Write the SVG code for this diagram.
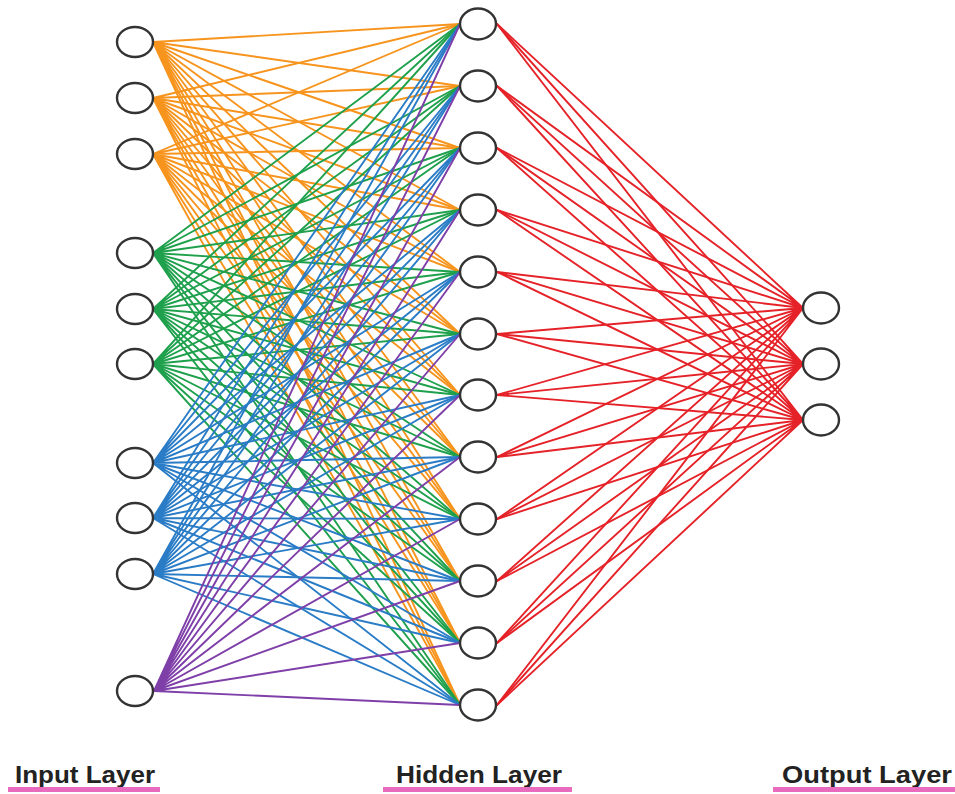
<svg xmlns="http://www.w3.org/2000/svg" width="955" height="794" viewBox="0 0 955 794">
<style>
.e{fill:none;stroke-width:1.9;stroke-linecap:round}
.or{stroke:#F7941D}.gr{stroke:#1EA04C}.bl{stroke:#2A7CC6}.pu{stroke:#7E3FA8}.rd{stroke:#E52228}
.n{fill:#fff;stroke:#333;stroke-width:2.4}
.lbl{font-family:"Liberation Sans",Arial,sans-serif;font-weight:bold;font-size:23px;fill:#222}
.ul{fill:#E86BBE}
</style>
<rect width="955" height="794" fill="#fff"/>
<g id="connectors">
<path class="e or" d="M153 42L460 24M153 42L460 86M153 42L460 148M153 42L460 210M153 42L460 272M153 42L460 334M153 42L460 395M153 42L460 457M153 42L460 519M153 42L460 581M153 42L460 643M153 42L460 705"/>
<path class="e or" d="M153 98L460 24M153 98L460 86M153 98L460 148M153 98L460 210M153 98L460 272M153 98L460 334M153 98L460 395M153 98L460 457M153 98L460 519M153 98L460 581M153 98L460 643M153 98L460 705"/>
<path class="e or" d="M153 154L460 24M153 154L460 86M153 154L460 148M153 154L460 210M153 154L460 272M153 154L460 334M153 154L460 395M153 154L460 457M153 154L460 519M153 154L460 581M153 154L460 643M153 154L460 705"/>
<path class="e gr" d="M153 253L460 24M153 253L460 86M153 253L460 148M153 253L460 210M153 253L460 272M153 253L460 334M153 253L460 395M153 253L460 457M153 253L460 519M153 253L460 581M153 253L460 643M153 253L460 705"/>
<path class="e gr" d="M153 309L460 24M153 309L460 86M153 309L460 148M153 309L460 210M153 309L460 272M153 309L460 334M153 309L460 395M153 309L460 457M153 309L460 519M153 309L460 581M153 309L460 643M153 309L460 705"/>
<path class="e gr" d="M153 364L460 24M153 364L460 86M153 364L460 148M153 364L460 210M153 364L460 272M153 364L460 334M153 364L460 395M153 364L460 457M153 364L460 519M153 364L460 581M153 364L460 643M153 364L460 705"/>
<path class="e bl" d="M153 463L460 24M153 463L460 86M153 463L460 148M153 463L460 210M153 463L460 272M153 463L460 334M153 463L460 395M153 463L460 457M153 463L460 519M153 463L460 581M153 463L460 643M153 463L460 705"/>
<path class="e bl" d="M153 518L460 24M153 518L460 86M153 518L460 148M153 518L460 210M153 518L460 272M153 518L460 334M153 518L460 395M153 518L460 457M153 518L460 519M153 518L460 581M153 518L460 643M153 518L460 705"/>
<path class="e bl" d="M153 574L460 24M153 574L460 86M153 574L460 148M153 574L460 210M153 574L460 272M153 574L460 334M153 574L460 395M153 574L460 457M153 574L460 519M153 574L460 581M153 574L460 643M153 574L460 705"/>
<path class="e pu" d="M154 691L460 24M154 691L460 86M154 691L460 148M154 691L460 210M154 691L460 272M154 691L460 334M154 691L460 395M154 691L460 457M154 691L460 519M154 691L460 581M154 691L460 643M154 691L460 705"/>
<path class="e rd" d="M803 308L497 24M803 308L497 86M803 308L497 148M803 308L497 210M803 308L497 272M803 308L497 334M803 308L497 395M803 308L497 457M803 308L497 519M803 308L497 581M803 308L497 643M803 308L497 705"/>
<path class="e rd" d="M803 364L497 24M803 364L497 86M803 364L497 148M803 364L497 210M803 364L497 272M803 364L497 334M803 364L497 395M803 364L497 457M803 364L497 519M803 364L497 581M803 364L497 643M803 364L497 705"/>
<path class="e rd" d="M803 420L497 24M803 420L497 86M803 420L497 148M803 420L497 210M803 420L497 272M803 420L497 334M803 420L497 395M803 420L497 457M803 420L497 519M803 420L497 581M803 420L497 643M803 420L497 705"/>
</g>
<g id="input-nodes">
<g id="in1"><ellipse class="n" cx="135" cy="42" rx="18" ry="15"/></g>
<g id="in2"><ellipse class="n" cx="135" cy="98" rx="18" ry="15"/></g>
<g id="in3"><ellipse class="n" cx="135" cy="154" rx="18" ry="15"/></g>
<g id="in4"><ellipse class="n" cx="135" cy="253" rx="18" ry="15"/></g>
<g id="in5"><ellipse class="n" cx="135" cy="309" rx="18" ry="15"/></g>
<g id="in6"><ellipse class="n" cx="135" cy="364" rx="18" ry="15"/></g>
<g id="in7"><ellipse class="n" cx="135" cy="463" rx="18" ry="15"/></g>
<g id="in8"><ellipse class="n" cx="135" cy="518" rx="18" ry="15"/></g>
<g id="in9"><ellipse class="n" cx="135" cy="574" rx="18" ry="15"/></g>
<g id="in10"><ellipse class="n" cx="135" cy="691" rx="18" ry="15"/></g>
</g>
<g id="hidden-nodes">
<g id="h1"><ellipse class="n" cx="478" cy="24" rx="18" ry="15.5"/></g>
<g id="h2"><ellipse class="n" cx="478" cy="86" rx="18" ry="15.5"/></g>
<g id="h3"><ellipse class="n" cx="478" cy="148" rx="18" ry="15.5"/></g>
<g id="h4"><ellipse class="n" cx="478" cy="210" rx="18" ry="15.5"/></g>
<g id="h5"><ellipse class="n" cx="478" cy="272" rx="18" ry="15.5"/></g>
<g id="h6"><ellipse class="n" cx="478" cy="334" rx="18" ry="15.5"/></g>
<g id="h7"><ellipse class="n" cx="478" cy="395" rx="18" ry="15.5"/></g>
<g id="h8"><ellipse class="n" cx="478" cy="457" rx="18" ry="15.5"/></g>
<g id="h9"><ellipse class="n" cx="478" cy="519" rx="18" ry="15.5"/></g>
<g id="h10"><ellipse class="n" cx="478" cy="581" rx="18" ry="15.5"/></g>
<g id="h11"><ellipse class="n" cx="478" cy="643" rx="18" ry="15.5"/></g>
<g id="h12"><ellipse class="n" cx="478" cy="705" rx="18" ry="15.5"/></g>
</g>
<g id="output-nodes">
<g id="o1"><ellipse class="n" cx="821" cy="308" rx="18" ry="15.5"/></g>
<g id="o2"><ellipse class="n" cx="821" cy="364" rx="18" ry="15.5"/></g>
<g id="o3"><ellipse class="n" cx="821" cy="420" rx="18" ry="15.5"/></g>
</g>
<g id="labels">
<g id="label-input"><text class="lbl" x="15" y="783" textLength="140" lengthAdjust="spacingAndGlyphs">Input Layer</text><rect class="ul" x="8" y="787" width="152" height="5"/></g>
<g id="label-hidden"><text class="lbl" x="396" y="783" textLength="166" lengthAdjust="spacingAndGlyphs">Hidden Layer</text><rect class="ul" x="383" y="787" width="189" height="5"/></g>
<g id="label-output"><text class="lbl" x="782" y="783" textLength="170" lengthAdjust="spacingAndGlyphs">Output Layer</text><rect class="ul" x="773" y="787" width="182" height="5"/></g>
</g>
</svg>
